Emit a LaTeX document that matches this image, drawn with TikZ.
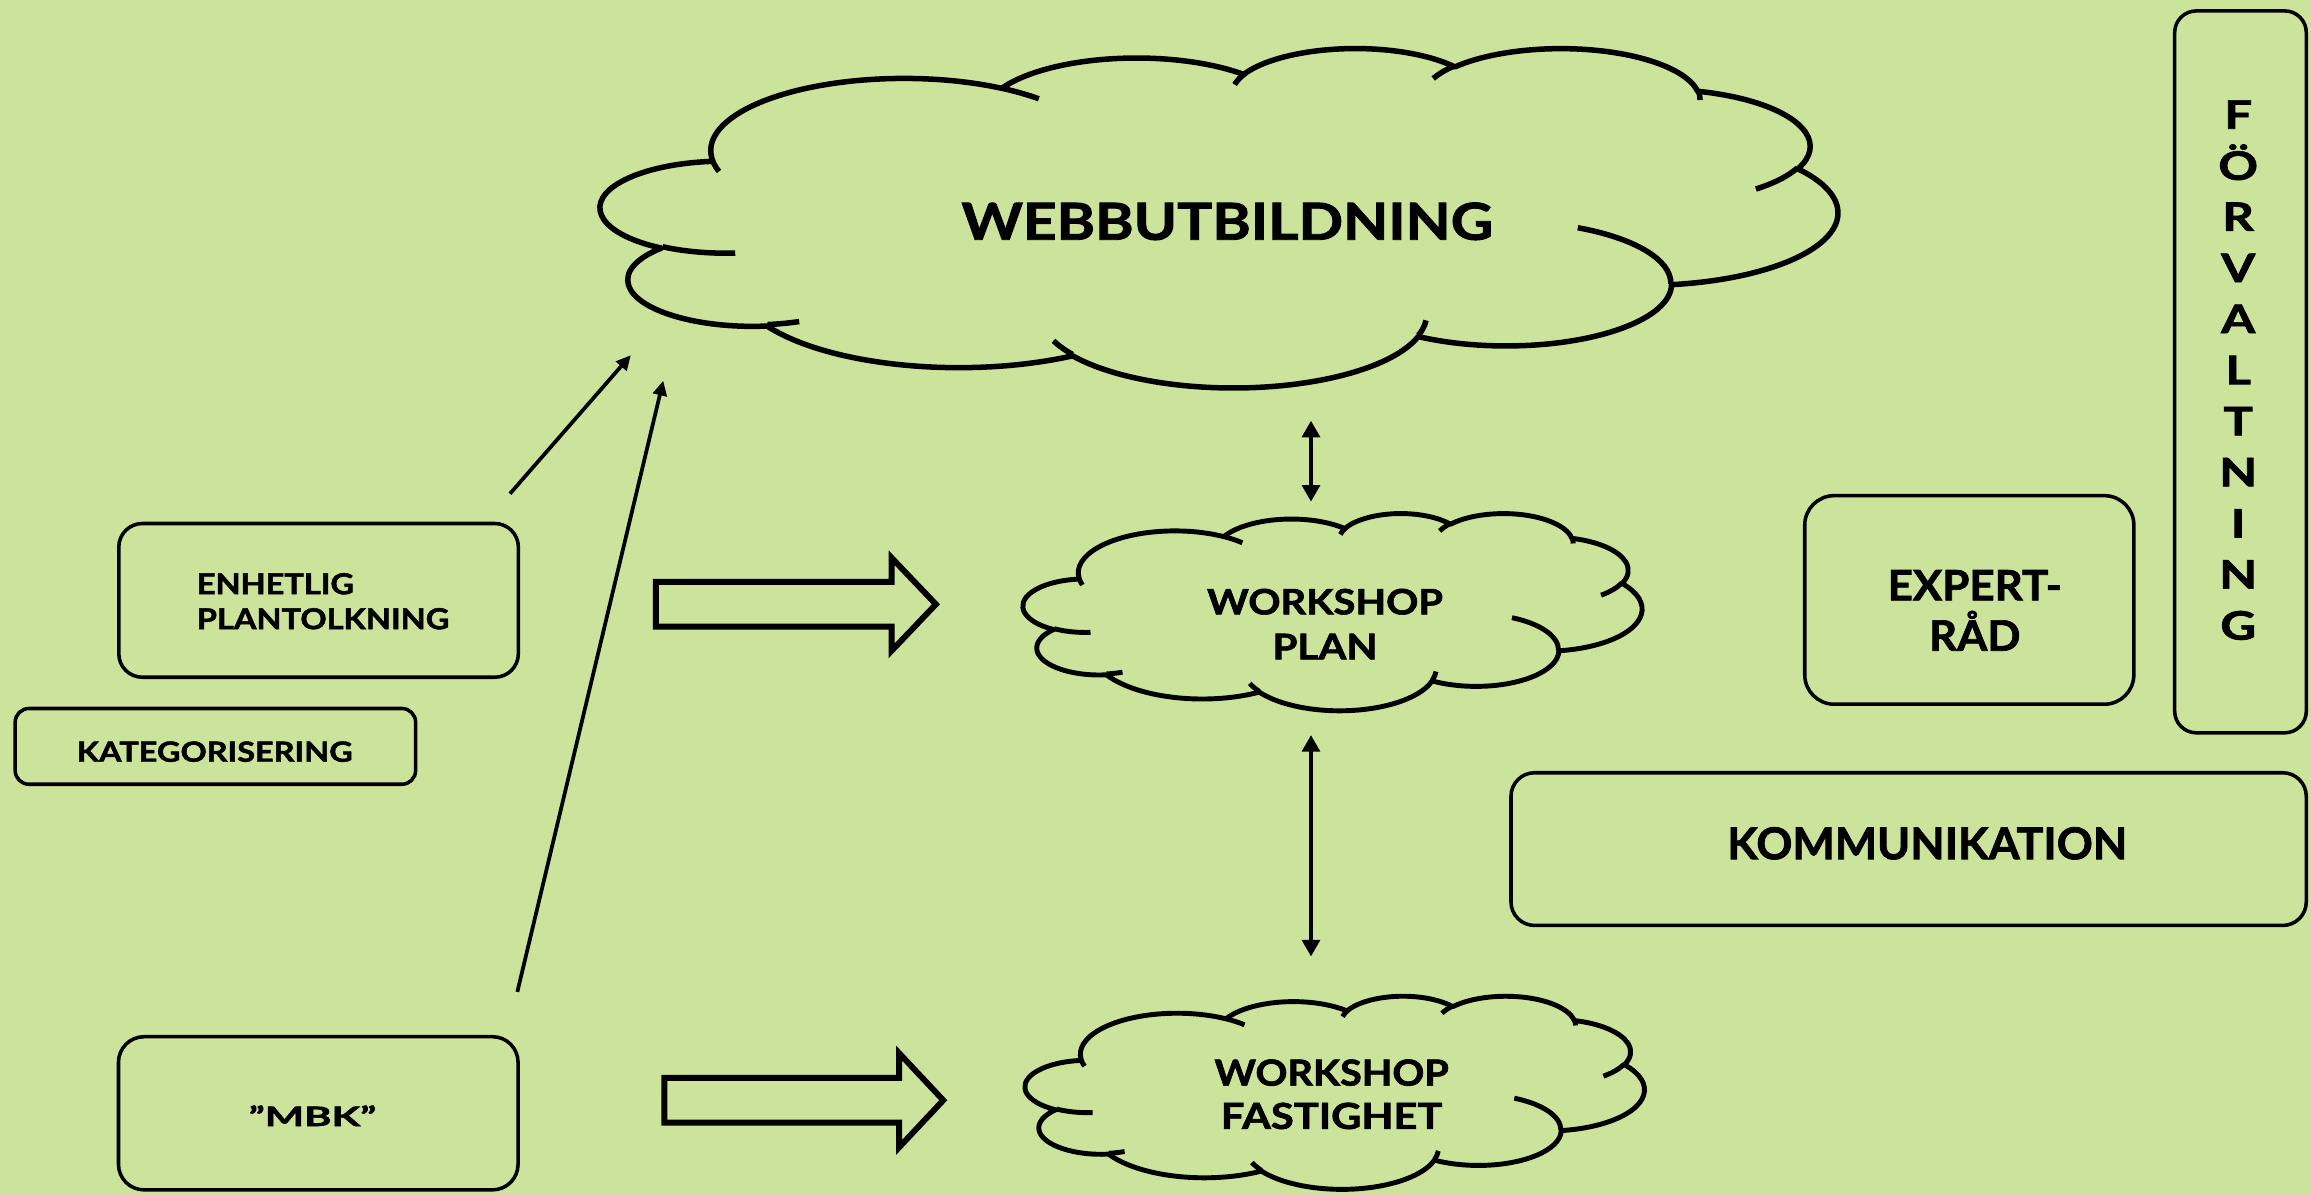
\documentclass[tikz,border=0pt]{standalone}
\usepackage{fontspec}
\setmainfont{Lato}[BoldFeatures={FakeBold=1.6}]
\usepackage{graphicx}
\usetikzlibrary{arrows.meta}
\definecolor{bg}{RGB}{204,227,155}
\newlength{\dpx}\setlength{\dpx}{0.75pt}
\newcommand{\rz}[3]{\resizebox{#1\dpx}{#2\dpx}{#3}}
\tikzset{
  carc/.style n args={4}{
    start angle={atan2((#1)*sin(#3),(#2)*cos(#3))},
    delta angle={mod(atan2((#1)*sin((#3)+(#4)),(#2)*cos((#3)+(#4)))-atan2((#1)*sin(#3),(#2)*cos(#3))+720,360)},
    x radius=#1, y radius=#2},
  cloudA/.style={draw=black, line width=2.8pt, fill=bg},
  cloudB/.style={draw=black, line width=2.5pt, fill=bg},
  boxshape/.style={draw=black, line width=1.8pt, fill=bg, inner sep=0pt},
  txt/.style={inner sep=0pt, font=\bfseries},
  thinarrow/.style={line width=1.9pt, -{Triangle[length=7.5pt,width=7pt]}},
  dblarrow/.style={line width=2.3pt, {Triangle[length=8.5pt,width=9pt]}-{Triangle[length=8.5pt,width=9pt]}},
  blockarrow/.style={draw=black, line width=3pt, fill=bg, line join=miter}
}
\newcommand{\pptcloud}[5]{%
  \pgfmathsetmacro\cloudxu{#3/432*0.75}%
  \pgfmathsetmacro\cloudyu{-#4/432*0.75}%
  \begin{scope}[shift={(#1,#2)}, x=\cloudxu pt, y=\cloudyu pt, line join=round]
    \filldraw[#5] (39.00,143.70)
      arc[carc={67.53}{91.90}{-190.4875}{123.7805}]
      arc[carc={53.33}{72.67}{-144.1024}{89.9452}]
      arc[carc={43.65}{59.45}{-145.8079}{99.7230}]
      arc[carc={48.57}{65.95}{-130.9861}{117.2417}]
      arc[carc={53.33}{72.73}{-78.7089}{109.0269}]
      arc[carc={67.75}{92.20}{-46.2673}{130.2690}]
      arc[carc={57.85}{78.67}{0.6250}{114.0333}]
      arc[carc={67.52}{92.15}{22.4516}{115.1726}]
      arc[carc={77.20}{105.43}{66.2426}{75.7110}]
      arc[carc={43.60}{59.18}{-274.9421}{146.7356}]
      arc[carc={43.45}{59.45}{-246.8285}{152.5189}]
      -- cycle;
    \draw[#5, fill=none]
      (46.93,261.77) arc[carc={43.45}{59.45}{86.7420}{26.4295}]
      (69.28,348.99) arc[carc={43.60}{59.18}{73.6105}{11.4475}]
      (164.78,390.90) arc[carc={67.52}{92.15}{137.6242}{14.0811}]
      (288.27,347.51) arc[carc={67.52}{92.15}{6.4533}{15.9984}]
      (341.29,229.54) arc[carc={57.85}{78.67}{-70.2924}{70.9174}]
      (417.98,153.54) arc[carc={53.33}{72.73}{30.3180}{27.7515}]
      (383.24,54.26) arc[carc={48.57}{65.95}{-13.7443}{14.8589}]
      (290.78,39.52) arc[carc={48.57}{65.95}{-149.1815}{18.1954}]
      (221.41,47.20) arc[carc={43.65}{59.45}{-163.4943}{17.6864}]
      (140.00,51.92) arc[carc={67.53}{91.90}{-66.7070}{12.3194}]
      (41.27,157.89) arc[carc={67.53}{91.90}{157.6544}{11.8582}];
  \end{scope}}
\begin{document}
\begin{tikzpicture}[x=0.75pt,y=-0.75pt]
\path[use as bounding box, fill=bg] (0,0) rectangle (1568,810.8);

% clouds
\pptcloud{407.7}{32.2}{839}{230.2}{cloudA}
\pptcloud{694.3}{348}{419.7}{133.8}{cloudB}
\pptcloud{695.7}{675.5}{419.9}{131}{cloudB}

\node[txt] (web) at (832.65,150.15) {\rz{360.5}{25.3}{WEBBUTBILDNING}};
\node[txt, anchor=north, align=center, font=\bfseries\fontsize{18}{22.9}\selectfont] (wsplan) at (899,399.2)
  {\rz{160.1}{17.4}{WORKSHOP}\\\rz{71.2}{17.4}{PLAN}};
\node[txt, anchor=north, align=center, font=\bfseries\fontsize{18}{22.05}\selectfont] (wsfast) at (903.5,718.5)
  {\rz{159}{17.8}{WORKSHOP}\\\rz{150.3}{17.8}{FASTIGHET}};

% boxes
\node[boxshape, rounded corners=12pt, minimum width=203.33pt, minimum height=78.23pt] (enhbox) at (216.15,407.35) {};
\node[boxshape, rounded corners=7pt, minimum width=203.78pt, minimum height=38.55pt] (katbox) at (146.15,506.4) {};
\node[boxshape, rounded corners=13pt, minimum width=203.33pt, minimum height=77.93pt] (mbkbox) at (215.95,755.35) {};
\node[boxshape, rounded corners=15pt, minimum width=167.48pt, minimum height=106.13pt] (expbox) at (1336.15,407.05) {};
\node[boxshape, rounded corners=11pt, minimum width=66.98pt, minimum height=367.35pt] (forvbox) at (1520.15,252.3) {};
\node[boxshape, rounded corners=12pt, minimum width=404.7pt, minimum height=77.7pt] (kommbox) at (1295,576.1) {};

\node[txt, anchor=north west, align=left, font=\bfseries\fontsize{14}{17.8}\selectfont] (enh) at (133.3,388.6)
  {\rz{106.6}{14.3}{ENHETLIG}\\\rz{171.2}{14.3}{PLANTOLKNING}};
\node[txt] (kat) at (145.7,510) {\rz{187.2}{13.8}{KATEGORISERING}};
\node[txt] (mbk) at (212,757) {\rz{86.5}{14}{”MBK”}};
\node[txt, anchor=north, align=center, font=\bfseries\fontsize{21}{25.6}\selectfont] (exp) at (1339.9,386.5)
  {\rz{118.3}{20.6}{EXPERT-}\\\rz{62}{20.6}{R\smash{Å}D}};
\node[txt] (komm) at (1307.6,572.2) {\rz{271.3}{21.8}{KOMMUNIKATION}};
\node[txt, anchor=north, align=center, font=\bfseries\fontsize{20}{26}\selectfont] (forv) at (1518.6,67.8)
  {\scalebox{1.25}[1]{F}\\\scalebox{1.25}[1]{Ö}\\\scalebox{1.25}[1]{R}\\\scalebox{1.25}[1]{V}\\\scalebox{1.25}[1]{A}\\\scalebox{1.25}[1]{L}\\\scalebox{1.25}[1]{T}\\\scalebox{1.25}[1]{N}\\\scalebox{1.25}[1]{I}\\\scalebox{1.25}[1]{N}\\\scalebox{1.25}[1]{G}};

% block arrows
\draw[blockarrow] (445,394.8) -- (605,394.8) -- (605,378.5) -- (635,410) -- (605,441.5) -- (605,425.2) -- (445,425.2) -- cycle;
\draw[blockarrow] (450.8,731.3) -- (610,731.3) -- (610,714.5) -- (640,746.5) -- (610,778.5) -- (610,761.7) -- (450.8,761.7) -- cycle;

% connectors
\coordinate (a1s) at (346,335);
\coordinate (a1e) at (428,241);
\coordinate (a2s) at (351,673);
\coordinate (a2e) at (450,258.3);
\coordinate (d1a) at (889.5,285.4);
\coordinate (d1b) at (889.5,340.4);
\coordinate (d2a) at (889.5,498.7);
\coordinate (d2b) at (889.5,649);
\draw[thinarrow] (a1s) -- (a1e);
\draw[thinarrow] (a2s) -- (a2e);
\draw[dblarrow] (d1a) -- (d1b);
\draw[dblarrow] (d2a) -- (d2b);
\end{tikzpicture}
\end{document}
